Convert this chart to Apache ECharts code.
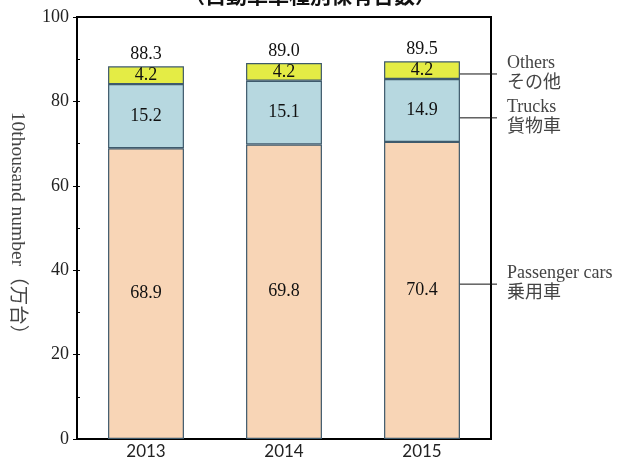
<!DOCTYPE html>
<html><head><meta charset="utf-8">
<script src="https://cdn.jsdelivr.net/npm/echarts@6/dist/echarts.min.js"></script>
<style>html,body{margin:0;padding:0;background:#fff}#c{width:620px;height:462px}</style>
</head><body><div id="c"></div>
<script>
var categories = ['2013', '2014', '2015'];
var passengerCars = [68.9, 69.8, 70.4];
var trucks = [15.2, 15.1, 14.9];
var others = [4.2, 4.2, 4.2];
var totals = [88.3, 89.0, 89.5];
var yTicks = [0, 20, 40, 60, 80, 100];
var seriesNames = ['Others\nその他', 'Trucks\n貨物車', 'Passenger cars\n乗用車'];
var leaderValues = [86.5, 76.1, 36.7];

var serif = '"Liberation Serif","Noto Sans CJK JP",serif';
var borderCol = '#3e5a6c';
var chart = echarts.init(document.getElementById('c'));
function seg(name, data, color) {
  return {
    name: name, type: 'bar', stack: 'a', data: data, barWidth: '55%',
    itemStyle: { color: color, borderColor: borderCol, borderWidth: 1.2 },
    label: { show: true, position: 'inside', fontFamily: serif, fontSize: 18, color: '#111',
      formatter: function (p) { return p.value.toFixed(1); } }
  };
}
chart.setOption({
  animation: false,
  grid: { left: 77, right: 129, top: 17, bottom: 23, show: true, borderColor: '#000', borderWidth: 2,
    backgroundColor: 'transparent', containLabel: false, outerBoundsMode: 'none' },
  xAxis: {
    type: 'category', data: categories,
    axisLine: { lineStyle: { color: '#000', width: 2 } },
    axisTick: { show: false },
    axisLabel: { fontFamily: '"Lato","Open Sans",sans-serif', fontSize: 17, color: '#222', margin: 4 }
  },
  yAxis: [{
    type: 'value', min: 0, max: 100, interval: 20,
    axisLine: { show: true, lineStyle: { color: '#000', width: 2 } },
    axisTick: { show: true, length: 4, lineStyle: { color: '#000' } },
    splitLine: { show: false },
    axisLabel: { fontFamily: serif, fontSize: 18, color: '#222', margin: 8,
      formatter: function (v) { return yTicks.indexOf(v) >= 0 ? String(v) : ''; } },
    name: '10thousand number（万台）', nameLocation: 'middle', nameGap: 50, nameRotate: -90,
    nameTextStyle: { fontFamily: serif, fontSize: 19.5, color: '#444' }
  }, {
    type: 'value', min: 0, max: 100, interval: 10, position: 'left',
    axisLine: { show: false }, axisLabel: { show: false }, splitLine: { show: false },
    axisTick: { show: true, inside: true, length: 3, lineStyle: { color: '#000' } }
  }],
  series: [
    seg('Passenger cars', passengerCars, '#f8d5b6'),
    seg('Trucks', trucks, '#b7d8e0'),
    seg('Others', others, '#e4ec45'),
    { name: 'Total', type: 'bar', stack: 'a', data: totals.map(function () { return 0; }), barWidth: '55%',
      itemStyle: { color: 'transparent' },
      label: { show: true, position: 'top', distance: 3, fontFamily: serif, fontSize: 18, color: '#111',
        formatter: function (p) { return totals[p.dataIndex].toFixed(1); } } }
  ]
});

var g = [{
  type: 'text', left: 'center', top: -15,
  style: { text: '（自動車車種別保有台数）', font: 'bold 21px "Noto Sans CJK JP"', fill: '#111', x: 0 }
}];
var lastIdx = categories.length - 1;
for (var i = 0; i < leaderValues.length; i++) {
  var p = chart.convertToPixel({ gridIndex: 0 }, [lastIdx, leaderValues[i]]);
  g.push({ type: 'line', shape: { x1: p[0] + 32, y1: p[1], x2: 497, y2: p[1] }, style: { stroke: '#111', lineWidth: 1 } });
  g.push({ type: 'text', x: 507, y: p[1] - 21,
    style: { text: seriesNames[i], font: '18px ' + serif, fill: '#444', lineHeight: 20 } });
}
chart.setOption({ graphic: g });
</script>
</body></html>
